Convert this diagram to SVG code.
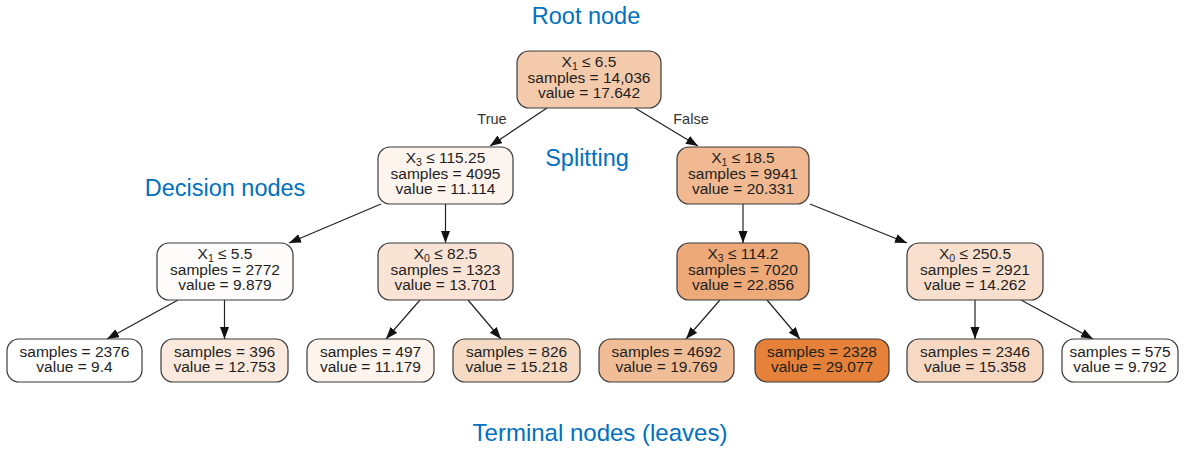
<svg xmlns="http://www.w3.org/2000/svg" width="1184" height="450" viewBox="0 0 1184 450">
<style>
.box{stroke:#3a3a3a;stroke-width:1.2}
.t{font-family:"Liberation Sans",Arial,sans-serif;font-size:15.5px;fill:#1e1e1e;text-anchor:middle}
.sub{font-size:10.5px}
.lbl{font-family:"Liberation Sans",Arial,sans-serif;font-size:23.5px;fill:#0070c0;text-anchor:middle}
.edge{font-family:"Liberation Sans",Arial,sans-serif;font-size:14.5px;fill:#333;text-anchor:middle}
.c{stroke:#222;stroke-width:1.2;fill:none;marker-end:url(#ah)}
</style>
<defs>
<marker id="ah" markerUnits="userSpaceOnUse" markerWidth="13" markerHeight="10" refX="12" refY="4.5" orient="auto">
<path d="M0,0 L12,4.5 L0,9 z" fill="#111"/>
</marker>
</defs>
<rect width="1184" height="450" fill="#fff"/>
<g id="labels">
<text class="lbl" x="586" y="24">Root node</text>
<text class="lbl" x="587" y="166">Splitting</text>
<text class="lbl" x="225" y="196">Decision nodes</text>
<text class="lbl" x="600" y="441" style="font-size:24px">Terminal nodes (leaves)</text>
<text class="edge" x="492" y="124">True</text>
<text class="edge" x="691" y="124">False</text>
</g>
<g id="connectors">
<path class="c" d="M547,108 L490,146"/>
<path class="c" d="M635,108 L698,146"/>
<path class="c" d="M381,204 L289,243"/>
<path class="c" d="M445.5,204 L445.5,243"/>
<path class="c" d="M743,204 L743,243"/>
<path class="c" d="M810,204 L907,243"/>
<path class="c" d="M178,300 L107,339"/>
<path class="c" d="M224.5,300 L224.5,339"/>
<path class="c" d="M420,300 L386,339"/>
<path class="c" d="M468,300 L501,339"/>
<path class="c" d="M720,300 L686,339"/>
<path class="c" d="M767,300 L800,339"/>
<path class="c" d="M975,300 L975,339"/>
<path class="c" d="M1021,300 L1093,339"/>
</g>
<g id="root">
<rect class="box" x="517" y="51" width="144" height="57" rx="12" fill="#f4caac"/>
<text class="t" x="589" y="67">X<tspan class="sub" dy="3">1</tspan><tspan dy="-3"> ≤ 6.5</tspan></text>
<text class="t" x="589" y="83">samples = 14,036</text>
<text class="t" x="589" y="98">value = 17.642</text>
</g>
<g id="n1">
<rect class="box" x="378" y="147" width="135" height="57" rx="12" fill="#fdf4ee"/>
<text class="t" x="445.5" y="163">X<tspan class="sub" dy="3">3</tspan><tspan dy="-3"> ≤ 115.25</tspan></text>
<text class="t" x="445.5" y="179">samples = 4095</text>
<text class="t" x="445.5" y="194">value = 11.114</text>
</g>
<g id="n2">
<rect class="box" x="677" y="147" width="132" height="57" rx="12" fill="#f1b991"/>
<text class="t" x="743" y="163">X<tspan class="sub" dy="3">1</tspan><tspan dy="-3"> ≤ 18.5</tspan></text>
<text class="t" x="743" y="179">samples = 9941</text>
<text class="t" x="743" y="194">value = 20.331</text>
</g>
<g id="n3">
<rect class="box" x="157" y="243" width="136" height="57" rx="12" fill="#fefcfa"/>
<text class="t" x="225" y="259">X<tspan class="sub" dy="3">1</tspan><tspan dy="-3"> ≤ 5.5</tspan></text>
<text class="t" x="225" y="275">samples = 2772</text>
<text class="t" x="225" y="290">value = 9.879</text>
</g>
<g id="n4">
<rect class="box" x="378" y="243" width="135" height="57" rx="12" fill="#f9e3d4"/>
<text class="t" x="445.5" y="259">X<tspan class="sub" dy="3">0</tspan><tspan dy="-3"> ≤ 82.5</tspan></text>
<text class="t" x="445.5" y="275">samples = 1323</text>
<text class="t" x="445.5" y="290">value = 13.701</text>
</g>
<g id="n5">
<rect class="box" x="677" y="243" width="132" height="57" rx="12" fill="#eda978"/>
<text class="t" x="743" y="259">X<tspan class="sub" dy="3">3</tspan><tspan dy="-3"> ≤ 114.2</tspan></text>
<text class="t" x="743" y="275">samples = 7020</text>
<text class="t" x="743" y="290">value = 22.856</text>
</g>
<g id="n6">
<rect class="box" x="907" y="243" width="136" height="57" rx="12" fill="#f9e0ce"/>
<text class="t" x="975" y="259">X<tspan class="sub" dy="3">0</tspan><tspan dy="-3"> ≤ 250.5</tspan></text>
<text class="t" x="975" y="275">samples = 2921</text>
<text class="t" x="975" y="290">value = 14.262</text>
</g>
<g id="l1">
<rect class="box" x="7" y="339" width="135" height="43" rx="12" fill="#ffffff"/>
<text class="t" x="74.5" y="357">samples = 2376</text>
<text class="t" x="74.5" y="372">value = 9.4</text>
</g>
<g id="l2">
<rect class="box" x="161" y="339" width="127" height="43" rx="12" fill="#fbe9dd"/>
<text class="t" x="224.5" y="357">samples = 396</text>
<text class="t" x="224.5" y="372">value = 12.753</text>
</g>
<g id="l3">
<rect class="box" x="307" y="339" width="127" height="43" rx="12" fill="#fdf4ed"/>
<text class="t" x="370.5" y="357">samples = 497</text>
<text class="t" x="370.5" y="372">value = 11.179</text>
</g>
<g id="l4">
<rect class="box" x="453" y="339" width="127" height="43" rx="12" fill="#f7dac4"/>
<text class="t" x="516.5" y="357">samples = 826</text>
<text class="t" x="516.5" y="372">value = 15.218</text>
</g>
<g id="l5">
<rect class="box" x="599" y="339" width="135" height="43" rx="12" fill="#f1bd97"/>
<text class="t" x="666.5" y="357">samples = 4692</text>
<text class="t" x="666.5" y="372">value = 19.769</text>
</g>
<g id="l6">
<rect class="box" x="755" y="339" width="134" height="43" rx="12" fill="#e58139"/>
<text class="t" x="822" y="357">samples = 2328</text>
<text class="t" x="822" y="372">value = 29.077</text>
</g>
<g id="l7">
<rect class="box" x="907" y="339" width="136" height="43" rx="12" fill="#f7d9c3"/>
<text class="t" x="975" y="357">samples = 2346</text>
<text class="t" x="975" y="372">value = 15.358</text>
</g>
<g id="l8">
<rect class="box" x="1062" y="339" width="116" height="43" rx="12" fill="#fffdfb"/>
<text class="t" x="1120" y="357">samples = 575</text>
<text class="t" x="1120" y="372">value = 9.792</text>
</g>
</svg>
